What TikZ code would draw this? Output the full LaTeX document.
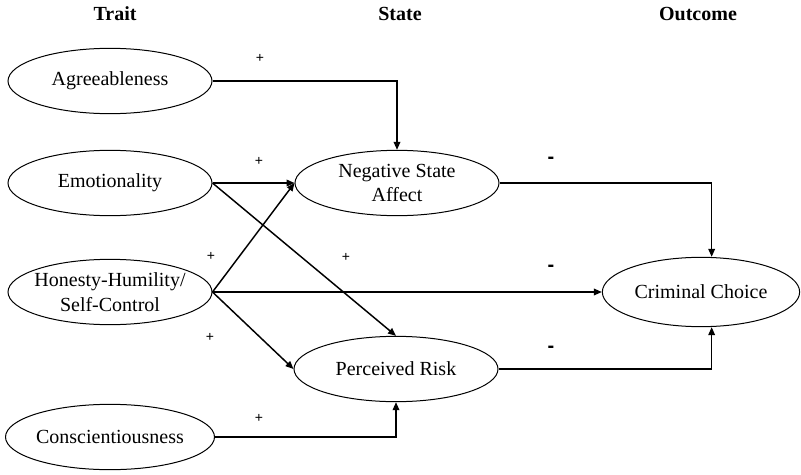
\documentclass[tikz,border=0pt]{standalone}
\usepackage{fontspec}
\setmainfont{Liberation Serif}
\newfontfamily\signfont{Liberation Sans}
\usetikzlibrary{shapes.geometric,arrows.meta,calc}
\tikzset{
  ell/.style={ellipse, draw, line width=0.75pt, inner sep=0pt, minimum width=153pt, minimum height=49pt, align=center, font=\fontsize{15}{18.5}\selectfont},
  head/.style={anchor=base, font=\fontsize{15}{18}\selectfont\bfseries},
  conn/.style={line width=1.1pt, -{Triangle[length=6pt,width=5pt]}},
  plus/.style={font=\signfont\fontsize{10.5}{12}\selectfont},
  minus/.style={font=\signfont\bfseries\fontsize{15}{18}\selectfont}
}
\begin{document}
\begin{tikzpicture}[x=0.75pt,y=-0.75pt]
\useasboundingbox (0,0) rectangle (801,475);
% headings
\node[head] (hTrait) at (115,20) {Trait};
\node[head] (hState) at (400,20) {State};
\node[head] (hOut) at (698,20) {Outcome};
% trait nodes
\node[ell] (agr) at (110,81) {Agreeableness};
\node[ell] (emo) at (110,183) {Emotionality};
\node[ell, inner xsep=-16pt, inner ysep=-4pt] (hon) at (110,292) {Honesty-Humility/\\Self-Control};
\node[ell] (con) at (110,437) {Conscientiousness};
% state nodes
\node[ell, inner xsep=-6pt, inner ysep=-4pt] (nsa) at (397,183) {Negative State\\Affect};
\node[ell] (pr) at (396,369) {Perceived Risk};
% outcome
\node[ell, minimum width=148pt, minimum height=52pt] (cc) at (701,292) {Criminal Choice};
% connectors
\draw[conn] (agr.east) -| (nsa.north);
\draw[conn] (emo.east) -- (nsa.west);
\draw[conn] (emo.east) -- (pr.north);
\draw[conn] (hon.east) -- (nsa.west);
\draw[conn] (hon.east) -- (cc.west);
\draw[conn] (hon.east) -- (pr.west);
\draw[conn] (con.east) -| (pr.south);
\draw[conn] (nsa.east) -| ([xshift=8pt]cc.north);
\draw[conn] (pr.east) -| ([xshift=8pt]cc.south);
% signs
\node[plus] (p1) at (260,58) {+};
\node[plus] (p2) at (259,161) {+};
\node[plus] (p3) at (211,256) {+};
\node[plus] (p4) at (346,257) {+};
\node[plus] (p5) at (210,337) {+};
\node[plus] (p6) at (259,418) {+};
\node[minus] (m1) at (551,160) {-};
\node[minus] (m2) at (551,268) {-};
\node[minus] (m3) at (551,349) {-};
\end{tikzpicture}
\end{document}
